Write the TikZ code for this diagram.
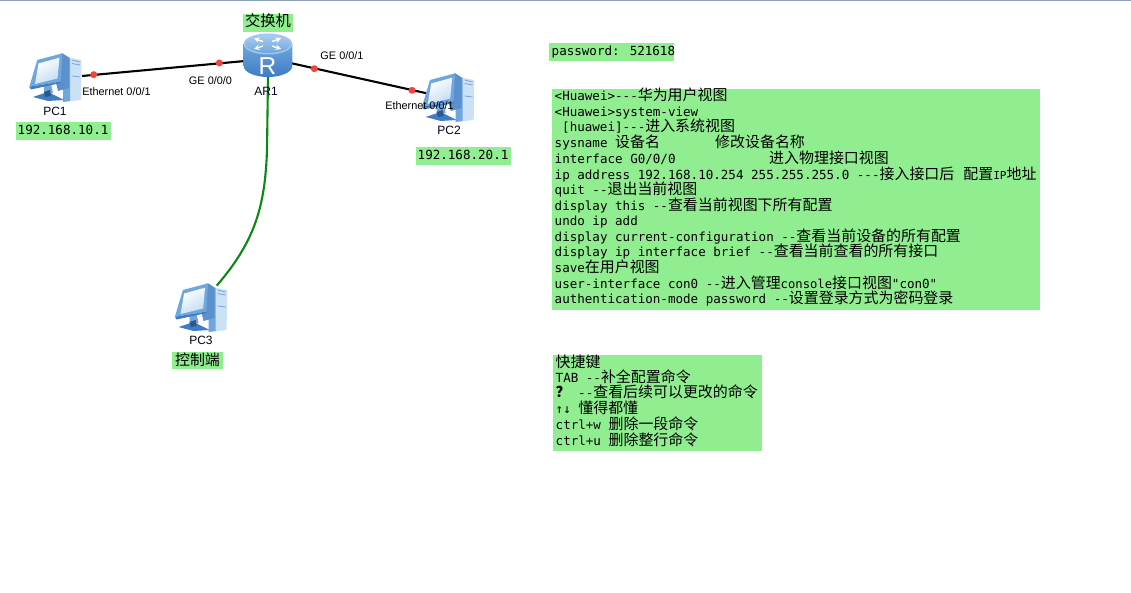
\documentclass[tikz,border=0pt]{standalone}
\usepackage{fontspec}
\setmainfont{Liberation Sans}
\newfontfamily\mono{DejaVu Sans Mono}
\newfontfamily\cjkf{Noto Sans CJK SC}
\newcommand{\Z}[1]{{\fontsize{14.95}{15}\selectfont\cjkf #1}}
\newcommand{\Sm}[1]{{\fontsize{11}{15}\selectfont #1}}
\usetikzlibrary{shapes.geometric}
\definecolor{hl}{HTML}{90EE90}
\definecolor{blueA}{HTML}{6FA6DE}
\definecolor{blueB}{HTML}{3F7CC4}
\definecolor{blueC}{HTML}{A9CDEF}
\definecolor{dotred}{HTML}{F9423A}
\definecolor{linkgreen}{HTML}{0B8A12}
\definecolor{topline}{HTML}{8DA0B5}
\tikzset{
  x=1pt,y=-1pt,
  hlbox/.style={fill=hl,draw=none},
  cmd/.style={anchor=base west,inner sep=0pt,font=\fontsize{12.55}{15}\selectfont\mono},
  lbl/.style={anchor=base,inner sep=0pt,font=\fontsize{10.9}{12}\selectfont},
  devlbl/.style={anchor=base,inner sep=0pt,font=\fontsize{12}{14}\selectfont,text=black!90!blue},
  dot/.style={circle,fill=dotred,draw=none,minimum size=7pt,inner sep=0pt},
  link/.style={draw=black,line width=2.1pt},
  pc/.pic={
    % tower
    \fill[blueC!60!white] (43.5,11.5) -- (61.5,15) -- (61,55) -- (43.5,57) -- cycle;
    \fill[blueA] (43,11) -- (50,13) -- (50,56) -- (43,57) -- cycle;
    \fill[blueB!85!white] (42,8) -- (49,12.5) -- (49,43) -- (38,46) -- (36,38) -- cycle;
    \draw[blueB!70!white,line width=.8pt] (52,15) -- (60,17) (52,18.5) -- (60,20) (52,31) -- (60,32);
    % stand
    \fill[blueA] (24,40) -- (31,39) -- (33,48) -- (24,50) -- cycle;
    \fill[blueB] (13,52) -- (28,47) -- (44,55) -- (28,56) -- cycle;
    \fill[blueB!70!black] (24,47) -- (30,45) -- (31,51) -- (25,52) -- cycle;
    % monitor
    \fill[blueA] (17.3,15) -- (42.5,8.3) -- (40.7,36.7) -- (9.3,41.7) -- cycle;
    \fill[blueB] (9.3,41.7) -- (40.7,36.7) -- (41,38) -- (11,44.5) -- cycle;
    \shade[left color=white,right color=blueC!70!white,shading angle=30] (18.5,18.5) -- (39.5,12.7) -- (37.5,33.5) -- (15,39) -- cycle;
  }
}
\begin{document}
\begin{tikzpicture}[x=1pt,y=-1pt]
\useasboundingbox (0,0) rectangle (1131,593);
\fill[white] (0,0) rectangle (1131,593);
\fill[topline] (0,0) rectangle (1131,1.3);

% highlight boxes
\fill[hlbox] (243,14) rectangle (293,32);
\fill[hlbox] (15.5,122) rectangle (110.5,140);
\fill[hlbox] (415.7,147) rectangle (510.7,165);
\fill[hlbox] (172,352) rectangle (222.7,369);
\fill[hlbox] (549,43) rectangle (674,61);
\fill[hlbox] (552,89.5) rectangle (1040,310);
\fill[hlbox] (553.3,355) rectangle (761.7,451);

% ports
\coordinate (pc1p) at (82,76);
\coordinate (pc2p) at (426.7,93.3);
\coordinate (pc3p) at (216.7,285.7);
\coordinate (arw) at (245,61);
\coordinate (are) at (291.7,63.3);
\coordinate (ars) at (268,76);
\coordinate (c0) at (267,150);
\coordinate (c1) at (265,205);
\coordinate (c2) at (256,240);

% links
\draw[link] (pc1p) -- (arw);
\draw[link] (are) -- (pc2p);
\draw[draw=linkgreen,line width=2.1pt] (ars) -- (c0) .. controls (c1) and (c2) .. (pc3p);

\node[dot] (d1) at (93.7,74.7) {};
\node[dot] (d2) at (219.3,63) {};
\node[dot] (d3) at (314.3,68.7) {};
\node[dot] (d4) at (412,90.3) {};

% PCs
\pic (pc1) at (20,45) {pc};
\pic (pc2) at (412.7,65) {pc};
\pic (pc3) at (165.6,275) {pc};

% router
\shade[top color=blueA,bottom color=blueB] (243.7,44) -- (243.7,66) arc[start angle=180,end angle=0,x radius=24.3,y radius=11] -- (292.3,44) -- cycle;
\fill[blueC!85!blueA] (268,44) ellipse[x radius=24.3,y radius=10.5];
\shade[top color=blueC,bottom color=blueA] (268,44) ellipse[x radius=22.5,y radius=9];
\begin{scope}[white,line width=1.4pt,->,>=stealth]
\draw (263,41.5) -- (254,38.5);
\draw (272,41.5) -- (281,38.5);
\draw (263,46) -- (254,49);
\draw (272,46) -- (281,49);
\end{scope}
\node[anchor=base,inner sep=0pt,text=white,font=\fontsize{24.5}{24}\selectfont] (rlet) at (267.5,75) {R};

% device labels
\node[devlbl] (pc1lbl) at (55,116) {PC1};
\node[devlbl] (pc2lbl) at (449,135) {PC2};
\node[devlbl] (pc3lbl) at (201,344) {PC3};
\node[devlbl] (ar1lbl) at (266,96) {AR1};
\node[lbl] (l1) at (116.5,96) {Ethernet 0/0/1};
\node[lbl] (l2) at (210.5,85) {GE 0/0/0};
\node[lbl] (l3) at (342,60) {GE 0/0/1};
\node[lbl] (l4) at (419.5,110) {Ethernet 0/0/1};

% highlight labels
\node[anchor=base,inner sep=0pt] (t1) at (268,27) {{\fontsize{15.3}{15}\selectfont\cjkf 交换机}};
\node[cmd] (t2) at (17.5,135) {192.168.10.1};
\node[cmd] (t3) at (417.5,160) {192.168.20.1};
\node[anchor=base,inner sep=0pt] (t4) at (197.5,365) {\Z{控制端}};
\node[cmd] (pw) at (551.5,56) {password: 521618};

% commands
\node[cmd] (a1) at (554.5,101) {<Huawei>---\Z{华为用户视图}};
\node[cmd] (a2) at (554.5,116.7) {<Huawei>system-view};
\node[cmd] (a3) at (562,131.7) {[huawei]---\Z{进入系统视图}};
\node[cmd] (a4) at (554.5,148) {\makebox[160.5pt][l]{sysname \Z{设备名}}\Z{修改设备名称}};
\node[cmd] (a5) at (554.5,163.7) {\makebox[214.5pt][l]{interface G0/0/0}\Z{进入物理接口视图}};
\node[cmd] (a6) at (554.5,179.3) {ip address 192.168.10.254 255.255.255.0 ---\Z{接入接口后} \hspace{1.5pt}\Z{配置}\Sm{IP}\Z{地址}};
\node[cmd] (a7) at (554.5,195) {quit --\Z{退出当前视图}};
\node[cmd] (a8) at (554.5,211) {display this --\Z{查看当前视图下所有配置}};
\node[cmd] (a9) at (554.5,225.7) {undo ip add};
\node[cmd] (a10) at (554.5,241.7) {display current-configuration --\Z{查看当前设备的所有配置}};
\node[cmd] (a11) at (554.5,256.7) {display ip interface brief --\Z{查看当前查看的所有接口}};
\node[cmd] (a12) at (554.5,272.3) {save\Z{在用户视图}};
\node[cmd] (a13) at (554.5,288.3) {user-interface con0 --\Z{进入管理}{\fontsize{12.2}{15}\selectfont console}\Z{接口视图}"con0"};
\node[cmd] (a14) at (554.5,303.7) {authentication-mode password --\Z{设置登录方式为密码登录}};

% shortcuts
\node[cmd] (b1) at (555.5,367) {\Z{快捷键}};
\node[cmd] (b2) at (555.5,382.3) {TAB --\Z{补全配置命令}};
\node[cmd] (b3) at (555.5,397.7) {\Z{\bfseries ？} --\Z{查看后续可以更改的命令}};
\node[cmd] (b4) at (555.5,413) {↑↓ \Z{懂得都懂}};
\node[cmd] (b5) at (555.5,429.3) {ctrl+w \Z{删除一段命令}};
\node[cmd] (b6) at (555.5,445) {ctrl+u \Z{删除整行命令}};
\end{tikzpicture}
\end{document}
